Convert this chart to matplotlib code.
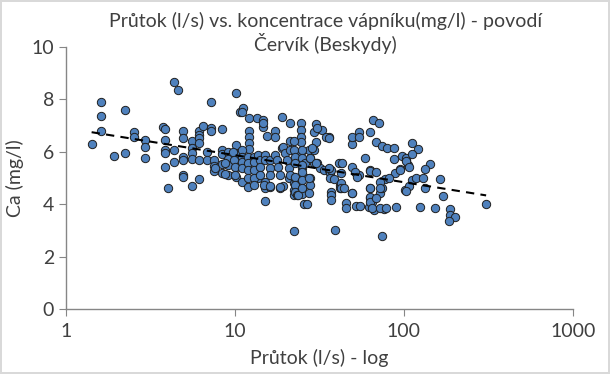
import matplotlib
matplotlib.use('Agg')
import matplotlib.pyplot as plt
import numpy as np

plt.rcParams['font.family'] = ['Lato', 'DejaVu Sans']

# flow (l/s) and Ca (mg/l)
flow = [
    # left part
    1.42, 1.62, 1.62, 1.62, 1.92, 2.23, 2.23, 2.53, 2.53, 2.94, 2.94, 2.94,
    3.74, 3.85, 3.85, 3.85, 3.85, 3.85, 4.04, 4.35, 4.63, 4.35, 4.35,
    4.94, 4.94, 4.94, 4.94, 4.94, 4.94, 5.56, 5.56, 5.56, 5.56, 5.56,
    6.17, 6.17, 6.17, 6.17, 6.17, 6.17, 6.46, 6.85, 6.85, 7.24, 7.24, 7.24,
    7.57, 7.57, 7.57, 8.41, 8.41, 8.41, 8.41, 8.41, 9.16, 9.16, 9.16, 9.16,
    10.1, 10.1, 10.1, 10.1, 10.1, 10.7, 7.64, 8.8, 8.8,
    # lower middle
    11.0, 12.0, 13.8, 13.8, 15.1, 15.1, 16.2, 18.6, 19.4, 21.0, 22.5, 22.5,
    22.5, 22.5, 25.0, 25.0, 25.5, 15.1, 22.5,
    # upper middle
    11.1, 11.0, 12.2, 12.2, 12.2, 12.2, 12.2, 13.6, 14.6, 14.6, 14.6, 15.5,
    17.3, 17.3, 19.1, 19.1, 21.3, 21.3, 24.6, 24.6, 24.6, 24.6, 30.2, 30.2,
    32.8, 35.9, 22.5, 24.7, 29.3, 30.8, 34.8, 36.2, 27.3, 29.3, 49.4,
    # dense band
    9.8, 9.9, 10.0, 10.0, 11.0, 11.0, 11.0, 11.0, 12.0, 12.0, 12.0, 12.0,
    12.9, 12.9, 12.9, 12.9, 12.9, 13.8, 14.1, 14.1, 14.1, 14.8, 15.1, 15.1,
    16.2, 16.2, 16.2, 16.2, 17.3, 17.7, 18.1, 18.6, 18.6, 19.4, 19.9, 20.3,
    20.8, 21.3, 21.3, 22.3, 22.8, 22.8, 22.8, 22.8, 22.8, 23.3, 23.8, 25.0,
    25.0, 25.0, 25.5, 26.1, 27.9, 27.9, 27.9, 28.6, 29.3, 30.6, 32.0, 33.5,
    35.9, 36.7, 36.7,
    # right middle
    37.1, 42.1, 42.1, 37.1, 37.1, 37.1, 45.3, 45.3, 49.4, 49.4, 49.4, 54.1,
    54.1, 54.1, 52.4, 55.0, 59.2, 62.8, 65.8, 71.7, 68.0, 74.0, 79.6, 87.1,
    87.1, 63.0, 63.4, 63.4, 62.0, 65.0, 66.9, 72.0, 74.3, 74.3, 76.0, 77.0,
    90.0, 89.0, 95.5, 98.0, 102, 103, 39.3, 26.7,
    27.9, 30.3, 25.0, 25.0, 25.0, 25.0, 27.6, 27.6, 35.9, 38.5, 41.1, 43.0,
    42.5, 42.5, 42.5, 44.5, 51.6, 53.0, 49.4, 62.8, 68.9, 63.5, 63.5, 63.5,
    65.0, 68.0, 72.0, 72.0, 72.0, 78.9, 81.4, 95.0, 103, 106, 112,
    # right part
    112, 122, 112, 103, 108, 142, 133, 118, 129, 163, 108, 103, 134, 171,
    124, 152, 187, 187, 200, 185, 307,
]
calcium = [
    6.29, 7.91, 7.37, 6.79, 5.84, 7.58, 5.95, 6.77, 6.55, 6.45, 6.17, 5.75,
    6.96, 6.87, 6.45, 6.07, 5.97, 5.43, 4.61, 8.65, 8.36, 6.07, 5.60,
    6.81, 6.51, 5.81, 5.69, 5.11, 5.05, 6.42, 6.13, 5.94, 5.71, 4.71,
    6.81, 6.64, 6.51, 6.32, 5.69, 4.95, 7.00, 6.00, 5.69, 7.89, 6.90, 6.79,
    5.69, 5.46, 5.28, 6.87, 6.07, 5.90, 5.52, 5.18, 6.00, 5.71, 5.50, 5.11,
    8.26, 6.26, 5.90, 5.43, 5.03, 7.53, 5.37, 5.56, 5.14,
    4.86, 4.67, 5.24, 4.99, 4.61, 4.86, 4.67, 4.61, 4.71, 4.99, 4.80, 4.54,
    4.35, 5.05, 4.61, 4.38, 4.00, 4.12, 2.99,
    7.66, 7.53, 7.28, 6.79, 6.55, 6.35, 6.10, 7.28, 7.21, 6.96, 7.09, 6.60,
    6.81, 6.58, 7.34, 6.13, 7.09, 6.41, 7.09, 6.83, 6.58, 6.39, 7.06, 6.36,
    6.83, 6.55, 6.42, 6.00, 6.77, 6.90, 6.58, 6.54, 6.07, 6.07, 6.30,
    6.00, 5.69, 5.43, 5.11, 6.07, 5.81, 5.62, 5.37, 5.81, 5.56, 5.31, 4.99,
    5.81, 5.62, 5.31, 4.99, 4.73, 5.88, 5.69, 5.43, 5.11, 4.73, 5.88, 5.69,
    5.69, 5.37, 5.11, 4.69, 5.88, 5.69, 5.43, 5.11, 4.67, 6.20, 5.94, 5.69,
    5.37, 5.11, 6.07, 6.07, 5.81, 5.56, 5.05, 4.73, 4.48, 4.35, 4.35, 6.07,
    5.75, 5.37, 5.05, 5.56, 5.75, 4.99, 4.73, 6.13, 5.56, 5.56, 5.37, 5.31,
    5.31, 5.18, 4.99,
    5.31, 4.73, 4.61, 4.48, 4.35, 4.16, 4.03, 3.87, 5.43, 6.58, 4.44, 6.74,
    6.55, 5.11, 3.94, 3.94, 5.75, 6.77, 7.21, 7.11, 6.39, 6.22, 6.13, 6.13,
    5.73, 5.31, 4.61, 4.23, 3.90, 4.10, 3.78, 4.42, 4.61, 2.79, 3.82, 4.95,
    3.90, 5.18, 5.33, 5.85, 4.54, 5.69, 3.02, 4.00,
    5.75, 5.56, 5.50, 5.24, 4.92, 4.61, 4.99, 4.42, 5.37, 4.96, 5.56, 5.56,
    5.18, 4.80, 4.61, 4.61, 5.24, 5.05, 4.42, 5.27, 5.24, 4.61, 4.26, 4.10,
    3.85, 4.23, 4.84, 4.61, 3.85, 3.87, 4.99, 5.31, 5.75, 5.50, 4.92,
    6.35, 6.11, 5.90, 5.66, 5.43, 5.53, 5.33, 5.01, 5.01, 4.95, 4.71, 4.52,
    4.61, 4.31, 3.88, 3.87, 3.81, 3.59, 3.52, 3.35, 4.00,
]

x = np.array(flow)
y = np.array(calcium)

fig = plt.figure(figsize=(6.10, 3.74), dpi=100)
fig.patch.set_edgecolor('#d9d9d9')
fig.patch.set_linewidth(1.5)
ax = fig.add_axes([0.108, 0.174, 0.831, 0.700])

ax.scatter(x, y, s=36, c='#4f81bd', edgecolors='#1f1f1f', linewidths=0.7, zorder=3)

# logarithmic trend line
a, b = np.polyfit(np.log10(x), y, 1)
xt = np.array([x.min(), x.max()])
ax.plot(xt, a * np.log10(xt) + b, color='black', linestyle=(0, (4, 3)), linewidth=1.5, zorder=4)

ax.set_xscale('log')
ax.set_xlim(1, 1000)
ax.set_ylim(0, 10)
ax.set_xticks([1, 10, 100, 1000])
ax.set_xticklabels(['1', '10', '100', '1000'])
ax.xaxis.set_minor_locator(matplotlib.ticker.NullLocator())
ax.set_yticks([0, 2, 4, 6, 8, 10])

for s in ['top', 'right']:
    ax.spines[s].set_visible(False)
for s in ['left', 'bottom']:
    ax.spines[s].set_color('#868686')
    ax.spines[s].set_linewidth(1.0)
ax.tick_params(axis='both', direction='out', length=5, color='#868686',
               labelsize=14, labelcolor='#404040')
ax.tick_params(axis='x', pad=5)

fig.text(0.533, 0.912, 'Průtok (l/s) vs. koncentrace vápníku(mg/l) - povodí\nČervík (Beskydy)',
         fontsize=14, color='#404040', ha='center', va='center', linespacing=1.15)
ax.set_xlabel('Průtok (l/s) - log', fontsize=14, color='#404040')
ax.set_ylabel('Ca (mg/l)', fontsize=14, color='#404040')
ax.xaxis.set_label_coords(0.5, -0.152)
ax.yaxis.set_label_coords(-0.083, 0.5)

fig.savefig('out.png', dpi=100, edgecolor=fig.get_edgecolor())
